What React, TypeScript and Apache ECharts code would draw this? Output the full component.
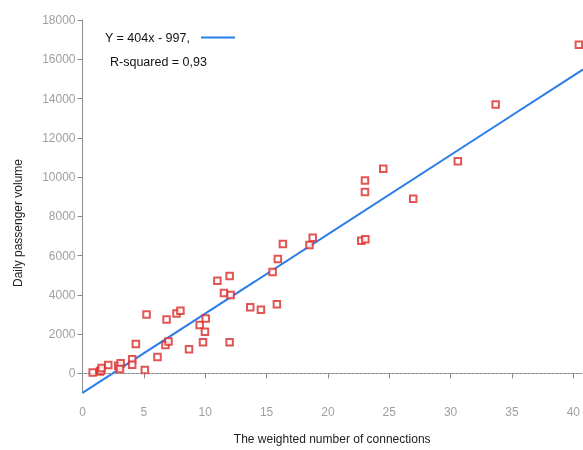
import React, { useEffect, useRef } from "react";
import * as echarts from "echarts";

const xTickValues = [0, 5, 10, 15, 20, 25, 30, 35, 40];
const yTickValues = [0, 2000, 4000, 6000, 8000, 10000, 12000, 14000, 16000, 18000];

const connections = [
  0.83, 1.42, 1.5, 1.56, 2.1, 2.91, 3.11, 3.05, 4.05, 4.05, 5.08, 4.35, 5.22, 6.11, 6.85,
  6.76, 7.01, 7.66, 7.98, 8.68, 9.55, 10.04, 9.98, 9.82, 11.99, 10.99, 11.99, 11.53, 12.07,
  13.67, 14.54, 15.84, 15.49, 15.92, 16.33, 18.5, 18.76, 22.72, 23.05, 23.02, 23.02, 24.51,
  26.95, 30.59, 33.67, 40.45,
];
const passengers = [
  50, 90, 150, 270, 420, 390, 510, 220, 720, 440, 170, 1500, 3000, 840, 2750,
  1450, 1620, 3050, 3190, 1230, 2460, 2800, 2120, 1590, 1590, 4720, 4960, 4100, 3990,
  3370, 3240, 3520, 5160, 5820, 6590, 6540, 6910, 6760, 6830, 9240, 9820, 10420,
  8900, 10800, 13690, 16740,
];

const slope = 404;
const intercept = -997;
const fitX = [0, 40.8];
const fitLabel = "Y = 404x - 997,";
const r2Label = "R-squared = 0,93";

export default function App() {
  const ref = useRef<HTMLDivElement>(null);
  useEffect(() => {
    if (!ref.current) return;
    const chart = echarts.init(ref.current, null, { renderer: "svg" });
    const points = connections.map((x, i) => [x, passengers[i]]);
    const fit = fitX.map((x) => [x, slope * x + intercept]);
    const axisGray = "#8c8c8c";
    const labelGray = "#a0a0a0";
    chart.setOption({
      animation: false,
      textStyle: { fontFamily: "Liberation Sans, Arial, sans-serif" },
      grid: { left: 82.5, right: 0, top: 20, bottom: 54.2, containLabel: false },
      xAxis: {
        type: "value",
        min: 0,
        max: 40.7,
        name: "The weighted number of connections",
        nameLocation: "middle",
        nameGap: 40,
        nameTextStyle: { color: "#222", fontSize: 12 },
        axisLine: { show: true, lineStyle: { color: axisGray } },
        axisTick: { show: true, customValues: xTickValues, length: 5, lineStyle: { color: axisGray } },
        axisLabel: {
          customValues: xTickValues,
          color: labelGray,
          fontSize: 12,
          margin: 13,
          formatter: (v: number) => String(v),
        },
        splitLine: { show: false },
      },
      yAxis: {
        type: "value",
        min: -1000,
        max: 18000,
        axisLine: { show: true, lineStyle: { color: axisGray } },
        axisTick: { show: true, customValues: yTickValues, length: 5, lineStyle: { color: axisGray } },
        axisLabel: {
          customValues: yTickValues,
          color: labelGray,
          fontSize: 12,
          margin: 7,
          formatter: (v: number) => String(v),
        },
        splitLine: { show: false },
      },
      graphic: [
        {
          type: "text",
          x: 18,
          y: 223,
          rotation: Math.PI / 2,
          style: {
            text: "Daily passenger volume",
            fill: "#222",
            font: "12px Liberation Sans, Arial, sans-serif",
            textAlign: "center",
            textVerticalAlign: "middle",
          },
        },
        {
          type: "text",
          x: 105,
          y: 38,
          style: {
            text: fitLabel,
            fill: "#111",
            font: "12.5px Liberation Sans, Arial, sans-serif",
            textAlign: "left",
            textVerticalAlign: "middle",
          },
        },
        {
          type: "line",
          shape: { x1: 201, y1: 37.5, x2: 235, y2: 37.5 },
          style: { stroke: "#2b7de9", lineWidth: 2 },
        },
        {
          type: "text",
          x: 110,
          y: 62,
          style: {
            text: r2Label,
            fill: "#111",
            font: "12.5px Liberation Sans, Arial, sans-serif",
            textAlign: "left",
            textVerticalAlign: "middle",
          },
        },
      ],
      series: [
        {
          type: "scatter",
          data: points,
          symbol: "rect",
          symbolSize: 6.5,
          itemStyle: { color: "#ffffff", borderColor: "#d92b2b", borderWidth: 2 },
          markLine: {
            silent: true,
            symbol: "none",
            label: { show: false },
            lineStyle: { color: "#c4c4c4", type: [1, 3], width: 1 },
            data: [{ yAxis: 0 }],
          },
          z: 3,
        },
        {
          type: "line",
          data: fit,
          symbol: "none",
          clip: false,
          lineStyle: { color: "#2b7de9", width: 2 },
          z: 2,
        },
      ],
    });
    return () => chart.dispose();
  }, []);
  return (
    <div
      ref={ref}
      style={{ position: "fixed", left: 0, top: 0, width: 583, height: 450 }}
    />
  );
}
